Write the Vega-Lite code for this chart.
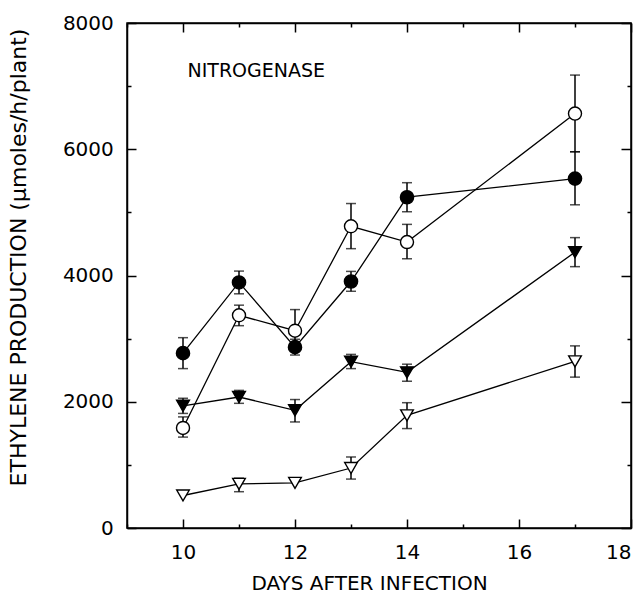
{
  "$schema": "https://vega.github.io/schema/vega-lite/v6.json",
  "width": 504,
  "height": 505,
  "autosize": {"type": "none"},
  "padding": {"left": 127, "top": 23, "right": 13, "bottom": 68},
  "background": "white",
  "config": {
    "view": {"stroke": "black", "strokeWidth": 1.5},
    "axis": {
      "domainColor": "black", "domainWidth": 1.5,
      "tickColor": "black", "tickWidth": 1.5, "grid": false,
      "labelFont": "DejaVu Sans", "labelFontSize": 20, "labelColor": "black",
      "titleFont": "DejaVu Sans", "titleFontSize": 20, "titleFontWeight": "normal", "titleColor": "black"
    }
  },
  "datasets": {
    "pts": [
      {"series": "A", "day": 10, "value": 2770, "lo": 2525, "hi": 3015},
      {"series": "A", "day": 11, "value": 3890, "lo": 3710, "hi": 4070},
      {"series": "A", "day": 12, "value": 2865, "lo": 2740, "hi": 2990},
      {"series": "A", "day": 13, "value": 3905, "lo": 3750, "hi": 4065},
      {"series": "A", "day": 14, "value": 5240, "lo": 5010, "hi": 5470},
      {"series": "A", "day": 17, "value": 5535, "lo": 5120, "hi": 5960},
      {"series": "B", "day": 10, "value": 1585, "lo": 1440, "hi": 1760},
      {"series": "B", "day": 11, "value": 3370, "lo": 3205, "hi": 3530},
      {"series": "B", "day": 12, "value": 3125, "lo": 2800, "hi": 3460},
      {"series": "B", "day": 13, "value": 4780, "lo": 4425, "hi": 5140},
      {"series": "B", "day": 14, "value": 4530, "lo": 4265, "hi": 4810},
      {"series": "B", "day": 17, "value": 6565, "lo": 5960, "hi": 7175},
      {"series": "C", "day": 10, "value": 1935, "lo": 1815, "hi": 2055},
      {"series": "C", "day": 11, "value": 2075, "lo": 1975, "hi": 2180},
      {"series": "C", "day": 12, "value": 1865, "lo": 1680, "hi": 2035},
      {"series": "C", "day": 13, "value": 2635, "lo": 2525, "hi": 2750},
      {"series": "C", "day": 14, "value": 2465, "lo": 2325, "hi": 2595},
      {"series": "C", "day": 17, "value": 4370, "lo": 4140, "hi": 4600},
      {"series": "D", "day": 10, "value": 515, "lo": null, "hi": null},
      {"series": "D", "day": 11, "value": 700, "lo": 575, "hi": 790},
      {"series": "D", "day": 12, "value": 715, "lo": null, "hi": null},
      {"series": "D", "day": 13, "value": 950, "lo": 775, "hi": 1125},
      {"series": "D", "day": 14, "value": 1785, "lo": 1575, "hi": 1985},
      {"series": "D", "day": 17, "value": 2640, "lo": 2390, "hi": 2885}
    ],
    "note": [{"day": 10.08, "value": 7235, "label": "NITROGENASE"}]
  },
  "layer": [
    {
      "data": {"name": "pts"},
      "mark": {"type": "line", "color": "black", "strokeWidth": 1.3},
      "encoding": {
        "x": {
          "field": "day", "type": "quantitative",
          "scale": {"domain": [9, 18], "nice": false, "zero": false},
          "axis": {
            "orient": "bottom",
            "values": [9, 10, 11, 12, 13, 14, 15, 16, 17, 18],
            "labelExpr": "datum.value % 2 === 0 ? datum.label : ''",
            "tickSize": {"condition": {"test": "datum.value % 2 === 0", "value": -9}, "value": -4},
            "labelPadding": 39.5,
            "labelBaseline": "alphabetic",
            "title": "DAYS AFTER INFECTION",
            "titleX": 242, "titleY": 61.5, "titleBaseline": "alphabetic", "titleAlign": "center"
          }
        },
        "y": {
          "field": "value", "type": "quantitative",
          "scale": {"domain": [0, 8000], "nice": false, "zero": true},
          "axis": {
            "orient": "left",
            "values": [0, 1000, 2000, 3000, 4000, 5000, 6000, 7000, 8000],
            "format": "d",
            "labelExpr": "datum.value % 2000 === 0 ? datum.label : ''",
            "tickSize": {"condition": {"test": "datum.value % 2000 === 0", "value": -9}, "value": -4},
            "labelPadding": 22.7,
            "title": "ETHYLENE PRODUCTION (µmoles/h/plant)",
            "titleFontSize": 22,
            "titleAngle": -90,
            "titleX": -102, "titleY": 234, "titleAlign": "center", "titleBaseline": "alphabetic"
          }
        },
        "detail": {"field": "series"}
      }
    },
    {
      "data": {"name": "pts"},
      "mark": {"type": "rule", "color": "black", "strokeWidth": 1.5},
      "encoding": {
        "x": {"field": "day", "type": "quantitative", "axis": null},
        "y": {"field": "lo", "type": "quantitative", "axis": null},
        "y2": {"field": "hi"}
      }
    },
    {
      "data": {"name": "pts"},
      "mark": {"type": "tick", "orient": "horizontal", "color": "black", "size": 10, "thickness": 1.5},
      "encoding": {
        "x": {"field": "day", "type": "quantitative", "axis": null},
        "y": {"field": "lo", "type": "quantitative", "axis": null}
      }
    },
    {
      "data": {"name": "pts"},
      "mark": {"type": "tick", "orient": "horizontal", "color": "black", "size": 10, "thickness": 1.5},
      "encoding": {
        "x": {"field": "day", "type": "quantitative", "axis": null},
        "y": {"field": "hi", "type": "quantitative", "axis": null}
      }
    },
    {
      "data": {"name": "pts"},
      "mark": {"type": "point", "filled": true, "stroke": "black", "strokeWidth": 1.4, "opacity": 1},
      "encoding": {
        "x": {
          "field": "day", "type": "quantitative",
          "axis": {
            "orient": "top",
            "values": [9, 10, 11, 12, 13, 14, 15, 16, 17, 18],
            "labels": false, "title": null,
            "tickSize": {"condition": {"test": "datum.value % 2 === 0", "value": -9}, "value": -4}
          }
        },
        "y": {
          "field": "value", "type": "quantitative",
          "axis": {
            "orient": "right",
            "values": [0, 1000, 2000, 3000, 4000, 5000, 6000, 7000, 8000],
            "labels": false, "title": null,
            "tickSize": {"condition": {"test": "datum.value % 2000 === 0", "value": -10}, "value": -4}
          }
        },
        "shape": {"field": "series", "scale": {"domain": ["A", "B", "C", "D"], "range": ["circle", "circle", "triangle-down", "triangle-down"]}, "legend": null},
        "fill": {"field": "series", "scale": {"domain": ["A", "B", "C", "D"], "range": ["black", "white", "black", "white"]}, "legend": null},
        "size": {"field": "series", "scale": {"domain": ["A", "B", "C", "D"], "range": [175, 160, 210, 200]}, "legend": null}
      }
    },
    {
      "data": {"name": "note"},
      "mark": {"type": "text", "align": "left", "baseline": "middle", "font": "DejaVu Sans", "fontSize": 19, "color": "black"},
      "encoding": {
        "x": {"field": "day", "type": "quantitative", "axis": null},
        "y": {"field": "value", "type": "quantitative", "axis": null},
        "text": {"field": "label"}
      }
    }
  ],
  "resolve": {"axis": {"x": "independent", "y": "independent"}}
}
